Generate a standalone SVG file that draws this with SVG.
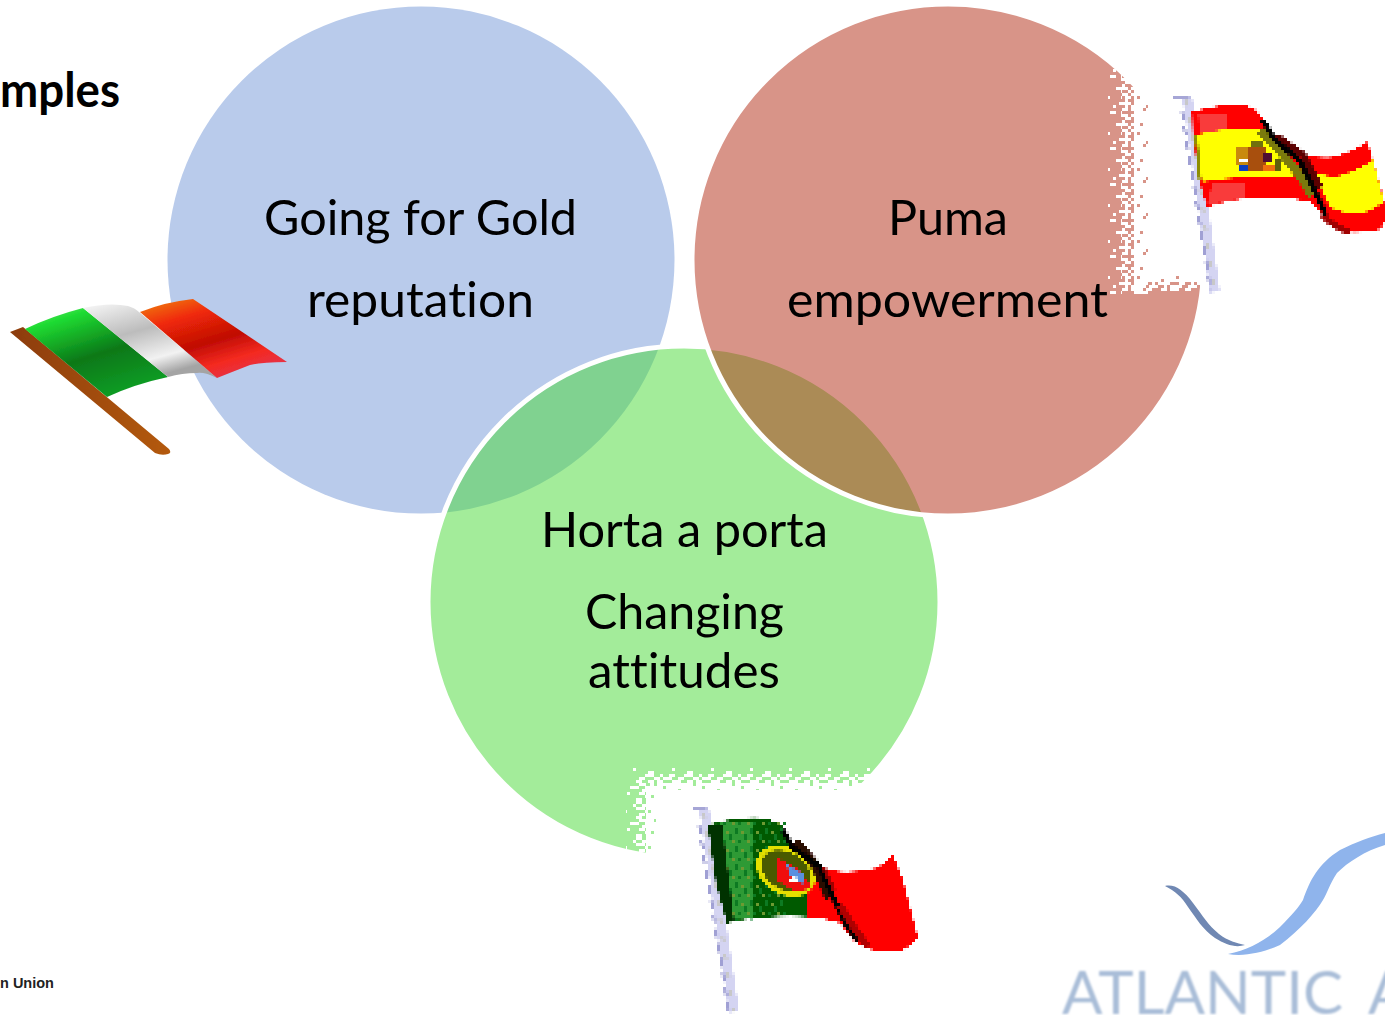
<svg xmlns="http://www.w3.org/2000/svg" width="1385" height="1015" viewBox="0 0 1385 1015">
<style>
.lbl{font-family:"Lato","Noto Sans",sans-serif;font-size:48px;fill:#000;text-anchor:middle;font-variant-ligatures:none}
.pole{fill:none;stroke-linecap:butt;stroke-linejoin:round}
</style>
<defs>
<pattern id="nS" width="39" height="36" patternUnits="userSpaceOnUse"><path fill="#fff" shape-rendering="crispEdges" d="M3 0h3v3h-3zM18 3h6v3h-6zM30 6h3v3h-3zM9 12h3v3h-3zM24 15h6v3h-6zM0 18h3v3h-3zM33 21h3v3h-3zM15 24h3v3h-3zM6 30h6v3h-6zM27 30h3v3h-3zM21 33h3v3h-3z"/></pattern>
<pattern id="nM" width="39" height="36" patternUnits="userSpaceOnUse"><path fill="#fff" shape-rendering="crispEdges" d="M0 0h9v3h-9zM15 0h6v3h-6zM30 0h6v3h-6zM6 3h3v3h-3zM21 3h9v3h-9zM0 6h6v3h-6zM12 6h6v3h-6zM27 6h9v3h-9zM9 9h9v3h-9zM24 9h3v3h-3zM33 9h6v3h-6zM3 12h9v3h-9zM18 12h6v3h-6zM30 12h3v3h-3zM0 15h3v3h-3zM12 15h9v3h-9zM27 15h9v3h-9zM6 18h6v3h-6zM21 18h9v3h-9zM36 18h3v3h-3zM0 21h9v3h-9zM15 21h6v3h-6zM30 21h6v3h-6zM9 24h9v3h-9zM24 24h6v3h-6zM33 24h6v3h-6zM3 27h6v3h-6zM15 27h12v3h-12zM33 27h3v3h-3zM9 30h6v3h-6zM21 30h3v3h-3zM27 30h12v3h-12zM0 33h12v3h-12zM18 33h9v3h-9zM33 33h3v3h-3z"/></pattern>
<pattern id="nD" width="39" height="36" patternUnits="userSpaceOnUse"><path fill="#fff" shape-rendering="crispEdges" d="M0 0h12v3h-12zM15 0h24v3h-24zM0 3h27v3h-27zM30 3h9v3h-9zM3 6h36v3h-36zM0 9h18v3h-18zM21 9h18v3h-18zM0 12h33v3h-33zM36 12h3v3h-3zM0 15h9v3h-9zM12 15h27v3h-27zM0 18h24v3h-24zM27 18h12v3h-12zM0 21h39v3h-39zM0 24h6v3h-6zM9 24h30v3h-30zM0 27h30v3h-30zM33 27h6v3h-6zM3 30h36v3h-36zM0 33h15v3h-15zM18 33h21v3h-21z"/></pattern>
<pattern id="gSpeck" width="15" height="18" patternUnits="userSpaceOnUse"><path fill="#0A7A20" shape-rendering="crispEdges" d="M0 0h3v6h-3zM9 6h3v6h-3zM3 12h3v3h-3z"/><path fill="#6E9A30" shape-rendering="crispEdges" d="M6 3h3v3h-3zM12 12h3v3h-3z"/></pattern>
<linearGradient id="itG" x1="0" y1="0" x2="0.5" y2="1"><stop offset="0" stop-color="#74e87c"/><stop offset=".2" stop-color="#1fdc32"/><stop offset=".62" stop-color="#0a7818"/><stop offset="1" stop-color="#0c9a24"/></linearGradient>
<linearGradient id="itW" x1="0" y1="0" x2="0.5" y2="1"><stop offset="0" stop-color="#f8f8f8"/><stop offset=".45" stop-color="#bcbcbc"/><stop offset=".8" stop-color="#f2f2f2"/><stop offset="1" stop-color="#a4a4a4"/></linearGradient>
<linearGradient id="itR" x1="0" y1="0" x2="0.55" y2="1"><stop offset="0" stop-color="#f08a10"/><stop offset=".3" stop-color="#f02a08"/><stop offset=".62" stop-color="#c00c04"/><stop offset=".85" stop-color="#f42a20"/><stop offset="1" stop-color="#e83040"/></linearGradient>
<linearGradient id="itP" x1="0" y1="0" x2="1" y2="0"><stop offset="0" stop-color="#8c3c08"/><stop offset="1" stop-color="#b45a0c"/></linearGradient>
<filter id="soft" x="-5%" y="-5%" width="110%" height="110%"><feGaussianBlur stdDeviation="1"/></filter>
<filter id="soft2" x="-5%" y="-5%" width="110%" height="110%"><feGaussianBlur stdDeviation="0.6"/></filter>
<filter id="pix" filterUnits="userSpaceOnUse" x="0" y="0" width="1385" height="1015"><feFlood x="1" y="1" width="1" height="1"/><feComposite width="3" height="3"/><feTile result="a"/><feComposite in="SourceGraphic" in2="a" operator="in"/><feMorphology operator="dilate" radius="1"/></filter>
</defs>

<rect width="1385" height="1015" fill="#fff"/>

<g id="node-going-for-gold">
<circle cx="421" cy="260" r="253.5" fill="#B9CBEB"/>
</g>
<g id="node-horta-a-porta">
<circle cx="684" cy="602" r="256" fill="rgb(71,217,53)" fill-opacity=".5" stroke="#fff" stroke-width="5"/>
</g>
<g id="node-puma">
<circle cx="948" cy="260" r="256" fill="rgb(178,45,21)" fill-opacity=".51" stroke="#fff" stroke-width="5"/>
</g>

<g id="mask-spain">
<rect x="1148" y="60" width="237" height="213" fill="#fff"/>
<rect x="1134" y="60" width="14" height="234" fill="url(#nD)"/>
<rect x="1121" y="60" width="13" height="234" fill="url(#nM)"/>
<rect x="1108" y="60" width="13" height="234" fill="url(#nS)"/>
<rect x="1148" y="273" width="52" height="9" fill="url(#nD)"/>
<rect x="1148" y="282" width="52" height="9" fill="url(#nM)"/>
<rect x="1200" y="273" width="185" height="40" fill="#fff"/>
</g>
<g id="mask-portugal">
<rect x="656" y="790" width="260" height="70" fill="#fff"/>
<rect x="632" y="765" width="246" height="9" fill="url(#nS)"/>
<rect x="636" y="774" width="240" height="9" fill="url(#nM)"/>
<rect x="650" y="783" width="230" height="8" fill="url(#nD)"/>
<rect x="646" y="786" width="10" height="70" fill="url(#nD)"/>
<rect x="636" y="783" width="10" height="73" fill="url(#nM)"/>
<rect x="626" y="783" width="10" height="70" fill="url(#nS)"/>
</g>

<g id="flag-italy" filter="url(#soft2)">
<path d="M10 332L23 327L169 449Q172 453 168 454Q162 456 155 453Z" fill="url(#itP)"/>
<path d="M25 329Q52 316 83 308L168 377Q135 384 107 397Z" fill="url(#itG)"/>
<path d="M83 308Q110 302 128 306Q135 308 139 312L217 378Q205 372 197 373Q182 373 168 377Z" fill="url(#itW)"/>
<path d="M140 312Q165 302 193 299L287 362Q262 362 250 365Q232 372 217 378Z" fill="url(#itR)"/>
</g>

<g id="flag-spain" filter="url(#pix)">
<path class="pole" d="M1174 97H1190" stroke="#A6A6D6" stroke-width="3"/>
<path class="pole" d="M1187 98L1190 112L1215 292" stroke="#D4D4F2" stroke-width="10"/>
<path class="pole" d="M1182 112L1211 292" stroke="#A0A0D4" stroke-width="3" stroke-dasharray="9 6"/>
<path class="pole" d="M1187 100L1215 292" stroke="#C8C8C8" stroke-width="3" stroke-dasharray="6 12"/>
<path d="M1192 112Q1212 106 1230 105Q1247 104 1256 110Q1265 120 1273 137Q1286 152 1300 153Q1318 159 1333 157Q1352 152 1367 142L1370 150L1385 203V222Q1380 230 1377 230Q1362 233 1350 232Q1336 228 1327 220Q1320 210 1310 202Q1298 199 1287 198Q1265 197 1247 198Q1225 201 1207 207L1200 183L1193 137Z" fill="#FF0000"/>
<path d="M1198 114H1228V133H1200ZM1212 184H1244V198L1207 205Z" fill="#F93A3A"/>
<path d="M1194 135L1226 129Q1245 127 1260 129L1296 178L1250 177Q1225 178 1202 182Z" fill="#FFFF00"/>
<path d="M1196 136L1200 180" stroke="#8d8d00" stroke-width="3" fill="none"/>
<path d="M1313 172Q1322 175 1335 177Q1355 172 1373 160L1384 202Q1372 210 1363 213H1347Q1335 210 1330 207Z" fill="#FFFF00"/>
<path d="M1260 130L1276 146L1302 178L1312 196" fill="none" stroke="#7A7A08" stroke-width="9"/>
<path d="M1276 136L1303 155L1320 188" fill="none" stroke="#5c0000" stroke-width="7"/>
<path d="M1322 214Q1334 228 1350 232" fill="none" stroke="#A00000" stroke-width="6"/>
<path d="M1263 120L1274 139L1300 161L1313 187L1326 215" fill="none" stroke="#000" stroke-width="5"/>
<g id="emblem-spain">
<rect x="1237" y="146" width="10" height="20" fill="#C98A10"/>
<rect x="1240" y="160" width="9" height="3" fill="#fff"/>
<rect x="1240" y="166" width="8" height="4" fill="#1040C0"/>
<rect x="1247" y="148" width="18" height="22" fill="#A85008"/>
<rect x="1262" y="152" width="10" height="10" fill="#500830"/>
<rect x="1264" y="164" width="12" height="8" fill="#F07010"/>
<rect x="1274" y="158" width="8" height="14" fill="#606010"/>
<rect x="1250" y="142" width="14" height="4" fill="#707010"/>
</g>
</g>

<g id="flag-portugal" filter="url(#pix)">
<path class="pole" d="M692 808H708" stroke="#A6A6D6" stroke-width="3"/>
<path class="pole" d="M704 809L707 825L734 1012" stroke="#D4D4F2" stroke-width="10"/>
<path class="pole" d="M699 825L729 1012" stroke="#A0A0D4" stroke-width="3" stroke-dasharray="9 6"/>
<path class="pole" d="M704 812L734 1012" stroke="#C8C8C8" stroke-width="3" stroke-dasharray="6 12"/>
<path d="M782 830L790 845Q805 860 820 867Q835 872 847 872Q862 871 877 868Q885 863 893 855L903 880L918 938Q911 945 903 950H873Q862 947 853 940L840 923Q825 918 808 917L806 898Z" fill="#FF0000"/>
<path d="M708 825Q728 819 747 818Q762 817 770 820Q780 824 783 827L790 845L812 868L806 900L808 917Q790 915 770 917Q747 918 727 923L717 883Z" fill="#005A00"/>
<path d="M720 823H754V917L730 921Z" fill="#2F9A36"/>
<path d="M720 823H785V917L730 921Z" fill="url(#gSpeck)"/>
<path d="M708 825L716 883L727 923L734 921L722 825Z" fill="#003000"/>
<ellipse cx="786" cy="871" rx="29" ry="21" transform="rotate(30 786 871)" fill="#4a5a00" stroke="#E4E000" stroke-width="5"/>
<path d="M778 858L800 870L812 888L796 892L776 880Z" fill="#F01010"/>
<path d="M786 864L804 874L804 884L792 880Z" fill="#5A90E0"/>
<ellipse cx="794" cy="880" rx="5" ry="3" fill="#fff"/>
<path d="M795 842L816 866L830 898" fill="none" stroke="#2a0800" stroke-width="10"/>
<path d="M783 830L792 847L820 867L833 897L848 928L858 940" fill="none" stroke="#000" stroke-width="5"/>
<path d="M840 905L852 925L868 947" fill="none" stroke="#B00000" stroke-width="7"/>
<path d="M824 868L834 890" fill="none" stroke="#A00000" stroke-width="4"/>
</g>

<g id="logo-atlantic">
<path filter="url(#soft2)" d="M1165 886C1175 884 1183 890 1193 903C1203 916 1208 925 1219 934C1228 941 1237 943 1245 945C1236 948 1226 945 1215 938C1203 930 1196 918 1188 907C1182 897 1175 891 1165 886Z" fill="#6F88B3"/>
<path filter="url(#soft2)" d="M1228 954C1248 950 1265 941 1280 927C1292 915 1298 908 1303 900C1310 880 1318 864 1340 850C1356 842 1370 837 1385 833V845C1365 851 1348 862 1337 873C1329 885 1328 892 1323 900C1316 912 1300 930 1280 945C1265 952 1245 957 1228 954Z" fill="#8FB4EC"/>
<text y="1014" font-family="Lato,'Liberation Sans',sans-serif" font-size="60" fill="#A9BDD8" filter="url(#soft)"><tspan x="1062" textLength="281" lengthAdjust="spacingAndGlyphs">ATLANTIC</tspan> <tspan x="1368">A</tspan></text>
</g>

<g id="labels">
<text class="lbl" x="420.500" y="235" textLength="313" lengthAdjust="spacingAndGlyphs">Going for Gold</text>
<text class="lbl" x="420.500" y="317" textLength="227" lengthAdjust="spacingAndGlyphs">reputation</text>
<text class="lbl" x="948" y="235" textLength="120" lengthAdjust="spacingAndGlyphs">Puma</text>
<text class="lbl" x="947.500" y="317" textLength="321" lengthAdjust="spacingAndGlyphs">empowerment</text>
<text class="lbl" x="684.500" y="547" textLength="287" lengthAdjust="spacingAndGlyphs">Horta a porta</text>
<text class="lbl" x="684.500" y="629" textLength="199" lengthAdjust="spacingAndGlyphs">Changing</text>
<text class="lbl" x="684" y="688" textLength="192" lengthAdjust="spacingAndGlyphs">attitudes</text>
<text x="0" y="107" font-family="Lato,'Noto Sans',sans-serif" font-size="48" font-weight="700" fill="#000" textLength="120" lengthAdjust="spacingAndGlyphs">mples</text>
<text x="0" y="988" font-family="'Liberation Sans',Arial,sans-serif" font-size="14.5" font-weight="700" fill="#222">n Union</text>
</g>
</svg>
